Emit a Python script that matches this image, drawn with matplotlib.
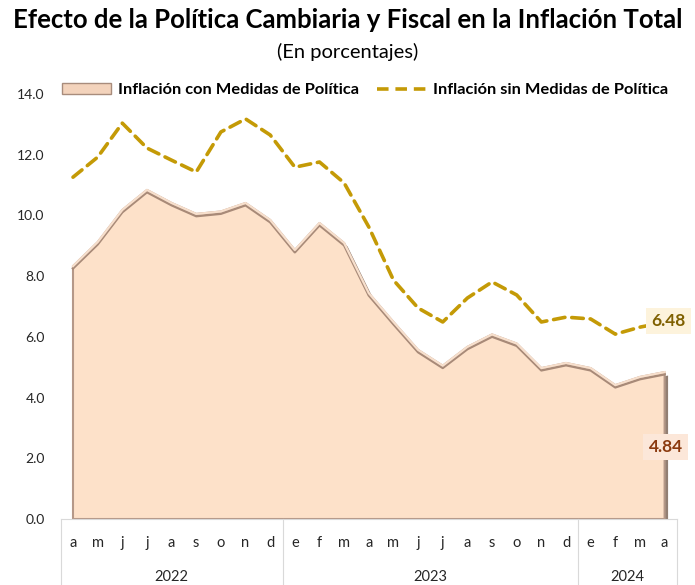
import numpy as np
import matplotlib
matplotlib.use("Agg")
from matplotlib import pyplot as plt
from matplotlib import patheffects as pe
from matplotlib.lines import Line2D
from matplotlib.patches import Patch
import matplotlib.transforms as mtrans

plt.rcParams['font.family'] = ['Lato', 'DejaVu Sans']

meses = ['a', 'm', 'j', 'j', 'a', 's', 'o', 'n', 'd',
         'e', 'f', 'm', 'a', 'm', 'j', 'j', 'a', 's', 'o', 'n', 'd',
         'e', 'f', 'm', 'a']
anios = ['2022', '2023', '2024']
anio_inicio = [0, 9, 21]
anio_fin = [8, 20, 24]

con_medidas = [8.33, 9.12, 10.18, 10.84, 10.41, 10.05, 10.13, 10.41, 9.85,
               8.86, 9.75, 9.09, 7.44, 6.49, 5.57, 5.05, 5.67, 6.08, 5.78,
               4.97, 5.14, 4.97, 4.41, 4.68, 4.84]
sin_medidas = [11.26, 11.92, 13.04, 12.22, 11.82, 11.43, 12.75, 13.18, 12.65,
               11.59, 11.76, 11.07, 9.62, 7.87, 6.95, 6.49, 7.28, 7.81, 7.38,
               6.49, 6.65, 6.59, 6.09, 6.32, 6.48]

x = np.arange(len(meses))

fig = plt.figure(figsize=(6.95, 5.85), dpi=100)
ax = fig.add_axes([0.0873, 0.1128, 0.8867, 0.7265])

# area con efecto de relieve
ax.fill_between(x, 0, con_medidas, facecolor='#FDE1C9', edgecolor='#B59888',
                linewidth=1.5, zorder=2,
                path_effects=[pe.SimplePatchShadow(offset=(2.5, -2.5), shadow_rgbFace='#6e5444', alpha=0.75),
                              pe.Normal()])
ax.plot(x, con_medidas, color='#F7DFCC', linewidth=1.6, zorder=2.5,
        path_effects=[pe.Stroke(offset=(0, -1.6), linewidth=1.8, foreground='#A88A78'), pe.Normal()])
ax.plot(x, sin_medidas, color='#C49A06', linewidth=2.6, dashes=(3.2, 1.9),
        dash_capstyle='round', zorder=3)

ax.set_xlim(-0.5, len(meses) - 0.5)
ax.set_ylim(0, 14)
ax.set_yticks(np.arange(0, 14.1, 2))
ax.set_yticklabels(['%.1f' % v for v in np.arange(0, 14.1, 2)], fontsize=10, color='#262626')
ax.tick_params(axis='y', length=0, pad=11.5)
ax.set_xticks(x)
ax.set_xticklabels(meses, fontsize=10.5, color='#262626')
ax.tick_params(axis='x', length=0, pad=12.5)
for s in ['top', 'right', 'left']:
    ax.spines[s].set_visible(False)
ax.spines['bottom'].set_color('#D9D9D9')

# eje de categorias con años
trans = mtrans.blended_transform_factory(ax.transData, ax.transAxes)
for b in [-0.5, 8.5, 20.5, 24.5]:
    ax.plot([b, b], [0, -0.16], color='#D9D9D9', linewidth=0.8, transform=trans, clip_on=False)
for a, i0, i1 in zip(anios, anio_inicio, anio_fin):
    ax.text((i0 + i1) / 2, -0.137, a, transform=trans, ha='center', va='center',
            fontsize=10.5, color='#262626')

# etiquetas de ultimo dato
ax.text(x[-1] + 0.16, sin_medidas[-1] + 0.05, '%.2f' % sin_medidas[-1], ha='center', va='center',
        fontsize=12.5, fontweight='bold', color='#7F6000', zorder=5,
        bbox=dict(boxstyle='square,pad=0.3', facecolor='#FDF3DC', edgecolor='none'))
ax.text(x[-1] + 0.04, 2.37, '%.2f' % con_medidas[-1], ha='center', va='center',
        fontsize=12.5, fontweight='bold', color='#8B3A0F', zorder=5,
        bbox=dict(boxstyle='square,pad=0.3', facecolor='#FCE7D9', edgecolor='none'))

handles = [Patch(facecolor='#F3D3BC', edgecolor='#A88C7C', linewidth=1),
           Line2D([0], [0], color='#C49A06', linewidth=2.6, dashes=(3.2, 1.9))]
fig.legend(handles, ['Inflación con Medidas de Política', 'Inflación sin Medidas de Política'],
           loc='center', bbox_to_anchor=(0.525, 0.846), ncol=2, frameon=False,
           handlelength=3.0, handleheight=0.6, columnspacing=1.1, handletextpad=0.4,
           prop={'weight': 'bold', 'size': 11.8})

fig.text(0.5, 0.965, 'Efecto de la Política Cambiaria y Fiscal en la Inflación Total',
         ha='center', va='center', fontsize=18.5, fontweight='bold', color='black')
fig.text(0.5, 0.911, '(En porcentajes)', ha='center', va='center', fontsize=14.5, color='black')

fig.savefig('out.png', dpi=100)
